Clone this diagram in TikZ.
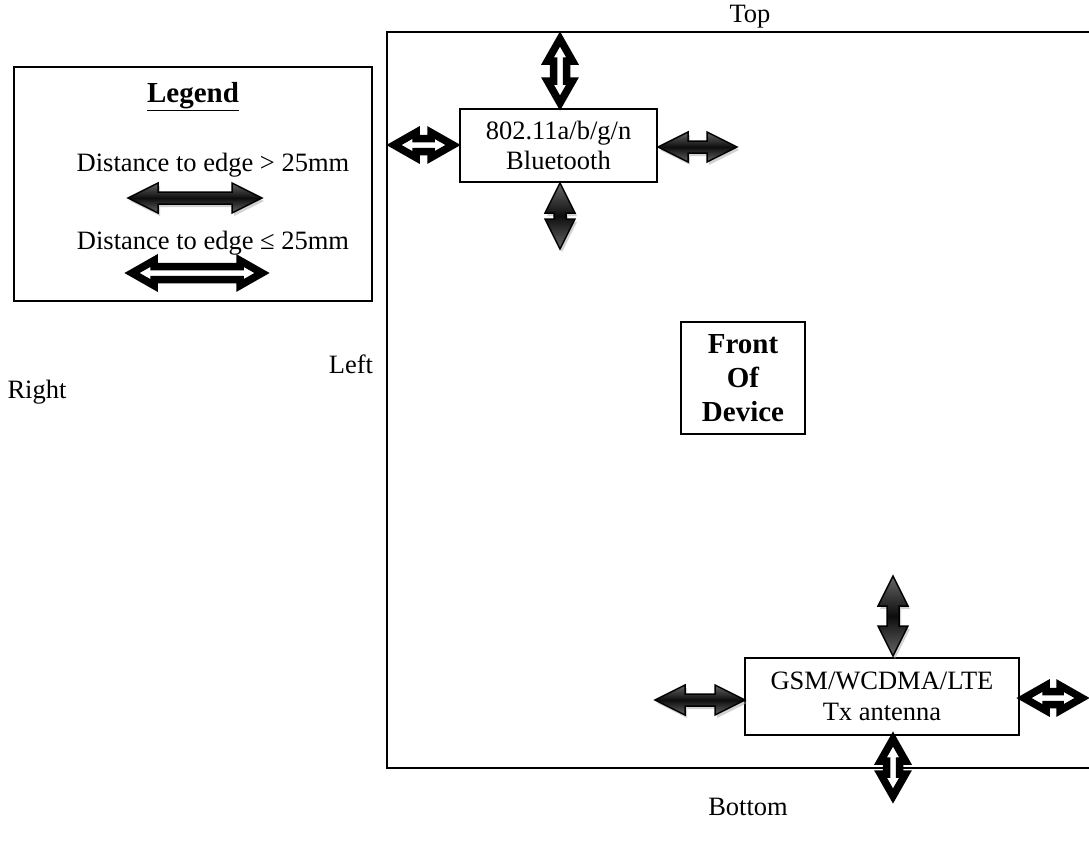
\documentclass[tikz,border=0pt]{standalone}
\usepackage{fontspec}
\setmainfont{Liberation Serif}
\usetikzlibrary{calc,shadows}

% double headed block arrow, centred on the pic origin
\newcommand\dblarrpath[5][]{%
  \path[#1] ({-#2/2},0) -- ({-#2/2+#3},#4) -- ({-#2/2+#3},#5) -- ({#2/2-#3},#5)
    -- ({#2/2-#3},#4) -- ({#2/2},0) -- ({#2/2-#3},-#4) -- ({#2/2-#3},-#5)
    -- ({-#2/2+#3},-#5) -- ({-#2/2+#3},-#4) -- cycle;}

\tikzset{
  txt/.style={inner sep=0pt, font=\fontsize{26.5}{30.5}\selectfont},
  box/.style={txt, draw, line width=2pt, fill=white, align=center},
  boldtxt/.style={font=\fontsize{29}{34}\selectfont\bfseries},
  open arrow/.style={draw=black, fill=white, line width=7.5pt, line join=miter},
  shade arrow/.style={draw=black, line width=1.5pt, line join=miter,
    top color=black!60, bottom color=black!60, middle color=black!95,
    drop shadow={shadow xshift=2pt, shadow yshift=-3pt, fill=black!35}},
  pics/openarr/.style={code={\dblarrpath[open arrow]{#1}{22}{12.5}{6.5}}},
  pics/shadearr/.style={code={\dblarrpath[shade arrow]{#1}{30}{15}{6}}},
}

\begin{document}
\begin{tikzpicture}[x=1pt,y=-1pt]
	\useasboundingbox (0,0) rectangle (1089,841);
	\clip (0,0) rectangle (1089,841);

	% legend
	\draw[line width=2.5pt] (14,67) rectangle (372,301);
	\node[txt, boldtxt] (legtitle) at (193,97) {\underline{Legend}};
	\node[txt] (legfar) at (213,165) {Distance to edge > 25mm};
	\pic at (195,198) {shadearr=134};
	\node[txt] (legnear) at (213,243) {Distance to edge ≤ 25mm};
	\pic at (197,273) {openarr=130};

	% device outline
	\draw[line width=2pt] (1095,32) -- (387,32) -- (387,768) -- (1095,768);
	\node[txt] (top) at (750,17) {Top};
	\node[txt] (bottom) at (748,807) {Bottom};
	\node[txt] (left) at (351,364) {Left};
	\node[txt] (right) at (37,392) {Right};

	\node[box, boldtxt, minimum width=124pt, minimum height=112pt] (front) at (743,378) {Front\\Of\\Device};

	% wlan / bt antenna
	\node[box, minimum width=197pt, minimum height=73pt] (bt) at (558.5,145.5) {802.11a/b/g/n\\Bluetooth};
	\pic[rotate=90] at (560,71) {openarr=64};
	\pic at (423.5,145) {openarr=59};
	\pic at (697.5,147) {shadearr=79};
	\pic[rotate=90] at (560,216) {shadearr=66};

	% cellular antenna
	\node[box, minimum width=274pt, minimum height=77pt] (gsm) at (882,696.5) {GSM/WCDMA/LTE\\Tx antenna};
	\pic[rotate=90] at (893,616) {shadearr=80};
	\pic at (700,700) {shadearr=90};
	\pic at (1053,698) {openarr=58};
	\pic[rotate=90] at (893,767.5) {openarr=57};
\end{tikzpicture}
\end{document}
